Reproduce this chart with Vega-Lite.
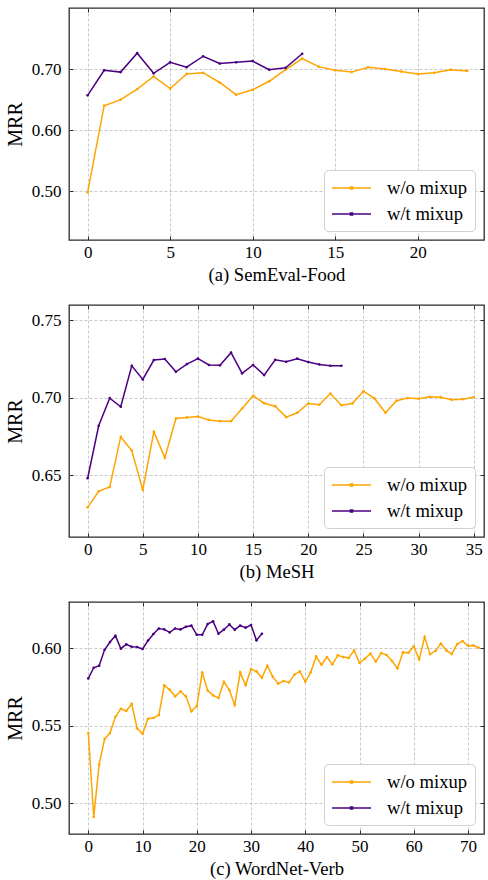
{
"$schema":"https://vega.github.io/schema/vega-lite/v6.json",
"padding":{"left":4,"top":6,"right":0,"bottom":0},
"config":{
 "font":"Liberation Serif",
 "view":{"stroke":"#2b2b2b","strokeWidth":1.3},
 "axis":{"labelFont":"Liberation Serif","labelFontSize":17,"labelColor":"black","titleFont":"Liberation Serif","titleFontSize":18.6,"titleFontWeight":"normal","titleColor":"black","domain":false,"tickColor":"#2b2b2b","tickSize":-4,"tickWidth":1,"gridColor":"#bbbbbb","gridDash":[3,2],"gridWidth":0.8},
 "axisY":{"titleFontSize":20},
 "legend":{"orient":"bottom-right","offset":9,"labelFont":"Liberation Serif","labelFontSize":18.6,"labelColor":"black","fillColor":"white","strokeColor":"#d0d0d0","cornerRadius":4,"padding":7,"rowPadding":5,"labelOffset":34,"symbolType":"M-1,0H2.9M0.85,-0.1H1.05V0.1H0.85Z","symbolSize":400,"symbolStrokeWidth":1.6,"symbolOpacity":1}
},
"data":{"values":[
{"p":"a","s":"w/o mixup","x":0,"y":0.498},{"p":"a","s":"w/o mixup","x":1,"y":0.640},{"p":"a","s":"w/o mixup","x":2,"y":0.650},{"p":"a","s":"w/o mixup","x":3,"y":0.667},{"p":"a","s":"w/o mixup","x":4,"y":0.688},{"p":"a","s":"w/o mixup","x":5,"y":0.668},{"p":"a","s":"w/o mixup","x":6,"y":0.692},{"p":"a","s":"w/o mixup","x":7,"y":0.694},{"p":"a","s":"w/o mixup","x":8,"y":0.678},{"p":"a","s":"w/o mixup","x":9,"y":0.658},{"p":"a","s":"w/o mixup","x":10,"y":0.666},{"p":"a","s":"w/o mixup","x":11,"y":0.680},{"p":"a","s":"w/o mixup","x":12,"y":0.699},{"p":"a","s":"w/o mixup","x":13,"y":0.717},{"p":"a","s":"w/o mixup","x":14,"y":0.704},{"p":"a","s":"w/o mixup","x":15,"y":0.698},{"p":"a","s":"w/o mixup","x":16,"y":0.695},{"p":"a","s":"w/o mixup","x":17,"y":0.703},{"p":"a","s":"w/o mixup","x":18,"y":0.700},{"p":"a","s":"w/o mixup","x":19,"y":0.696},{"p":"a","s":"w/o mixup","x":20,"y":0.692},{"p":"a","s":"w/o mixup","x":21,"y":0.694},{"p":"a","s":"w/o mixup","x":22,"y":0.699},{"p":"a","s":"w/o mixup","x":23,"y":0.697},
{"p":"a","s":"w/t mixup","x":0,"y":0.657},{"p":"a","s":"w/t mixup","x":1,"y":0.698},{"p":"a","s":"w/t mixup","x":2,"y":0.695},{"p":"a","s":"w/t mixup","x":3,"y":0.726},{"p":"a","s":"w/t mixup","x":4,"y":0.693},{"p":"a","s":"w/t mixup","x":5,"y":0.711},{"p":"a","s":"w/t mixup","x":6,"y":0.703},{"p":"a","s":"w/t mixup","x":7,"y":0.721},{"p":"a","s":"w/t mixup","x":8,"y":0.709},{"p":"a","s":"w/t mixup","x":9,"y":0.711},{"p":"a","s":"w/t mixup","x":10,"y":0.713},{"p":"a","s":"w/t mixup","x":11,"y":0.699},{"p":"a","s":"w/t mixup","x":12,"y":0.702},{"p":"a","s":"w/t mixup","x":13,"y":0.725},
{"p":"b","s":"w/o mixup","x":0,"y":0.6292},{"p":"b","s":"w/o mixup","x":1,"y":0.6395},{"p":"b","s":"w/o mixup","x":2,"y":0.6423},{"p":"b","s":"w/o mixup","x":3,"y":0.6747},{"p":"b","s":"w/o mixup","x":4,"y":0.6659},{"p":"b","s":"w/o mixup","x":5,"y":0.6404},{"p":"b","s":"w/o mixup","x":6,"y":0.6780},{"p":"b","s":"w/o mixup","x":7,"y":0.6613},{"p":"b","s":"w/o mixup","x":8,"y":0.6866},{"p":"b","s":"w/o mixup","x":9,"y":0.6873},{"p":"b","s":"w/o mixup","x":10,"y":0.6879},{"p":"b","s":"w/o mixup","x":11,"y":0.6857},{"p":"b","s":"w/o mixup","x":12,"y":0.6849},{"p":"b","s":"w/o mixup","x":13,"y":0.6849},{"p":"b","s":"w/o mixup","x":14,"y":0.6931},{"p":"b","s":"w/o mixup","x":15,"y":0.7013},{"p":"b","s":"w/o mixup","x":16,"y":0.6965},{"p":"b","s":"w/o mixup","x":17,"y":0.6946},{"p":"b","s":"w/o mixup","x":18,"y":0.6875},{"p":"b","s":"w/o mixup","x":19,"y":0.6903},{"p":"b","s":"w/o mixup","x":20,"y":0.6963},{"p":"b","s":"w/o mixup","x":21,"y":0.6955},{"p":"b","s":"w/o mixup","x":22,"y":0.7028},{"p":"b","s":"w/o mixup","x":23,"y":0.6952},{"p":"b","s":"w/o mixup","x":24,"y":0.6963},{"p":"b","s":"w/o mixup","x":25,"y":0.7043},{"p":"b","s":"w/o mixup","x":26,"y":0.6996},{"p":"b","s":"w/o mixup","x":27,"y":0.6903},{"p":"b","s":"w/o mixup","x":28,"y":0.6981},{"p":"b","s":"w/o mixup","x":29,"y":0.6998},{"p":"b","s":"w/o mixup","x":30,"y":0.6994},{"p":"b","s":"w/o mixup","x":31,"y":0.7006},{"p":"b","s":"w/o mixup","x":32,"y":0.7004},{"p":"b","s":"w/o mixup","x":33,"y":0.6987},{"p":"b","s":"w/o mixup","x":34,"y":0.6991},{"p":"b","s":"w/o mixup","x":35,"y":0.7004},
{"p":"b","s":"w/t mixup","x":0,"y":0.6480},{"p":"b","s":"w/t mixup","x":1,"y":0.6819},{"p":"b","s":"w/t mixup","x":2,"y":0.6998},{"p":"b","s":"w/t mixup","x":3,"y":0.6942},{"p":"b","s":"w/t mixup","x":4,"y":0.7207},{"p":"b","s":"w/t mixup","x":5,"y":0.7119},{"p":"b","s":"w/t mixup","x":6,"y":0.7244},{"p":"b","s":"w/t mixup","x":7,"y":0.7251},{"p":"b","s":"w/t mixup","x":8,"y":0.7168},{"p":"b","s":"w/t mixup","x":9,"y":0.7218},{"p":"b","s":"w/t mixup","x":10,"y":0.7253},{"p":"b","s":"w/t mixup","x":11,"y":0.7212},{"p":"b","s":"w/t mixup","x":12,"y":0.7210},{"p":"b","s":"w/t mixup","x":13,"y":0.7292},{"p":"b","s":"w/t mixup","x":14,"y":0.7158},{"p":"b","s":"w/t mixup","x":15,"y":0.7212},{"p":"b","s":"w/t mixup","x":16,"y":0.7147},{"p":"b","s":"w/t mixup","x":17,"y":0.7246},{"p":"b","s":"w/t mixup","x":18,"y":0.7233},{"p":"b","s":"w/t mixup","x":19,"y":0.7253},{"p":"b","s":"w/t mixup","x":20,"y":0.7231},{"p":"b","s":"w/t mixup","x":21,"y":0.7216},{"p":"b","s":"w/t mixup","x":22,"y":0.7207},{"p":"b","s":"w/t mixup","x":23,"y":0.7207},
{"p":"c","s":"w/o mixup","x":0,"y":0.5453},{"p":"c","s":"w/o mixup","x":1,"y":0.4910},{"p":"c","s":"w/o mixup","x":2,"y":0.5250},{"p":"c","s":"w/o mixup","x":3,"y":0.5414},{"p":"c","s":"w/o mixup","x":4,"y":0.5453},{"p":"c","s":"w/o mixup","x":5,"y":0.5558},{"p":"c","s":"w/o mixup","x":6,"y":0.5610},{"p":"c","s":"w/o mixup","x":7,"y":0.5595},{"p":"c","s":"w/o mixup","x":8,"y":0.5642},{"p":"c","s":"w/o mixup","x":9,"y":0.5483},
{"p":"c","s":"w/o mixup","x":10,"y":0.5448},{"p":"c","s":"w/o mixup","x":11,"y":0.5545},{"p":"c","s":"w/o mixup","x":12,"y":0.5550},{"p":"c","s":"w/o mixup","x":13,"y":0.5569},{"p":"c","s":"w/o mixup","x":14,"y":0.5761},{"p":"c","s":"w/o mixup","x":15,"y":0.5733},{"p":"c","s":"w/o mixup","x":16,"y":0.5690},{"p":"c","s":"w/o mixup","x":17,"y":0.5722},{"p":"c","s":"w/o mixup","x":18,"y":0.5690},{"p":"c","s":"w/o mixup","x":19,"y":0.5593},
{"p":"c","s":"w/o mixup","x":20,"y":0.5627},{"p":"c","s":"w/o mixup","x":21,"y":0.5845},{"p":"c","s":"w/o mixup","x":22,"y":0.5728},{"p":"c","s":"w/o mixup","x":23,"y":0.5696},{"p":"c","s":"w/o mixup","x":24,"y":0.5679},{"p":"c","s":"w/o mixup","x":25,"y":0.5784},{"p":"c","s":"w/o mixup","x":26,"y":0.5731},{"p":"c","s":"w/o mixup","x":27,"y":0.5634},{"p":"c","s":"w/o mixup","x":28,"y":0.5845},{"p":"c","s":"w/o mixup","x":29,"y":0.5763},
{"p":"c","s":"w/o mixup","x":30,"y":0.5866},{"p":"c","s":"w/o mixup","x":31,"y":0.5851},{"p":"c","s":"w/o mixup","x":32,"y":0.5810},{"p":"c","s":"w/o mixup","x":33,"y":0.5888},{"p":"c","s":"w/o mixup","x":34,"y":0.5817},{"p":"c","s":"w/o mixup","x":35,"y":0.5772},{"p":"c","s":"w/o mixup","x":36,"y":0.5789},{"p":"c","s":"w/o mixup","x":37,"y":0.5780},{"p":"c","s":"w/o mixup","x":38,"y":0.5830},{"p":"c","s":"w/o mixup","x":39,"y":0.5851},
{"p":"c","s":"w/o mixup","x":40,"y":0.5784},{"p":"c","s":"w/o mixup","x":41,"y":0.5845},{"p":"c","s":"w/o mixup","x":42,"y":0.5948},{"p":"c","s":"w/o mixup","x":43,"y":0.5894},{"p":"c","s":"w/o mixup","x":44,"y":0.5944},{"p":"c","s":"w/o mixup","x":45,"y":0.5897},{"p":"c","s":"w/o mixup","x":46,"y":0.5955},{"p":"c","s":"w/o mixup","x":47,"y":0.5944},{"p":"c","s":"w/o mixup","x":48,"y":0.5938},{"p":"c","s":"w/o mixup","x":49,"y":0.5987},
{"p":"c","s":"w/o mixup","x":50,"y":0.5907},{"p":"c","s":"w/o mixup","x":51,"y":0.5933},{"p":"c","s":"w/o mixup","x":52,"y":0.5966},{"p":"c","s":"w/o mixup","x":53,"y":0.5914},{"p":"c","s":"w/o mixup","x":54,"y":0.5970},{"p":"c","s":"w/o mixup","x":55,"y":0.5957},{"p":"c","s":"w/o mixup","x":56,"y":0.5918},{"p":"c","s":"w/o mixup","x":57,"y":0.5871},{"p":"c","s":"w/o mixup","x":58,"y":0.5974},{"p":"c","s":"w/o mixup","x":59,"y":0.5972},
{"p":"c","s":"w/o mixup","x":60,"y":0.6013},{"p":"c","s":"w/o mixup","x":61,"y":0.5929},{"p":"c","s":"w/o mixup","x":62,"y":0.6073},{"p":"c","s":"w/o mixup","x":63,"y":0.5963},{"p":"c","s":"w/o mixup","x":64,"y":0.5983},{"p":"c","s":"w/o mixup","x":65,"y":0.6032},{"p":"c","s":"w/o mixup","x":66,"y":0.5987},{"p":"c","s":"w/o mixup","x":67,"y":0.5963},{"p":"c","s":"w/o mixup","x":68,"y":0.6028},{"p":"c","s":"w/o mixup","x":69,"y":0.6047},
{"p":"c","s":"w/o mixup","x":70,"y":0.6017},{"p":"c","s":"w/o mixup","x":71,"y":0.6019},{"p":"c","s":"w/o mixup","x":72,"y":0.6004},
{"p":"c","s":"w/t mixup","x":0,"y":0.5806},{"p":"c","s":"w/t mixup","x":1,"y":0.5875},{"p":"c","s":"w/t mixup","x":2,"y":0.5888},{"p":"c","s":"w/t mixup","x":3,"y":0.5991},{"p":"c","s":"w/t mixup","x":4,"y":0.6041},{"p":"c","s":"w/t mixup","x":5,"y":0.6082},{"p":"c","s":"w/t mixup","x":6,"y":0.5998},{"p":"c","s":"w/t mixup","x":7,"y":0.6026},{"p":"c","s":"w/t mixup","x":8,"y":0.6011},{"p":"c","s":"w/t mixup","x":9,"y":0.6009},
{"p":"c","s":"w/t mixup","x":10,"y":0.5996},{"p":"c","s":"w/t mixup","x":11,"y":0.6050},{"p":"c","s":"w/t mixup","x":12,"y":0.6093},{"p":"c","s":"w/t mixup","x":13,"y":0.6129},{"p":"c","s":"w/t mixup","x":14,"y":0.6123},{"p":"c","s":"w/t mixup","x":15,"y":0.6103},{"p":"c","s":"w/t mixup","x":16,"y":0.6129},{"p":"c","s":"w/t mixup","x":17,"y":0.6123},{"p":"c","s":"w/t mixup","x":18,"y":0.6140},{"p":"c","s":"w/t mixup","x":19,"y":0.6147},
{"p":"c","s":"w/t mixup","x":20,"y":0.6088},{"p":"c","s":"w/t mixup","x":21,"y":0.6088},{"p":"c","s":"w/t mixup","x":22,"y":0.6157},{"p":"c","s":"w/t mixup","x":23,"y":0.6175},{"p":"c","s":"w/t mixup","x":24,"y":0.6095},{"p":"c","s":"w/t mixup","x":25,"y":0.6121},{"p":"c","s":"w/t mixup","x":26,"y":0.6155},{"p":"c","s":"w/t mixup","x":27,"y":0.6121},{"p":"c","s":"w/t mixup","x":28,"y":0.6147},{"p":"c","s":"w/t mixup","x":29,"y":0.6134},
{"p":"c","s":"w/t mixup","x":30,"y":0.6151},{"p":"c","s":"w/t mixup","x":31,"y":0.6052},{"p":"c","s":"w/t mixup","x":32,"y":0.6095}
]},
"spacing":65,
"bounds":"flush",
"resolve":{"scale":{"color":"independent"},"legend":{"color":"independent"}},
"vconcat":[
{"width":415,"height":232,
 "transform":[{"filter":"datum.p==='a'"}],
 "layer":[
  {"mark":{"type":"line","strokeWidth":1.5},
   "encoding":{
    "x":{"field":"x","type":"quantitative","scale":{"domain":[-1.13,24.02],"nice":false,"zero":false},"axis":{"orient":"bottom","values":[0,5,10,15,20],"title":"(a) SemEval-Food","labelPadding":8,"titlePadding":5,"grid":true}},
    "y":{"field":"y","type":"quantitative","scale":{"domain":[0.42,0.80],"nice":false,"zero":false},"axis":{"orient":"left","values":[0.5,0.6,0.7],"format":".2f","title":"MRR","labelPadding":12,"titlePadding":6,"grid":true}},
    "color":{"field":"s","type":"nominal","scale":{"domain":["w/o mixup","w/t mixup"],"range":["#ffa500","#4b0082"]},"legend":{"title":null}}}},
  {"mark":{"type":"point","filled":true,"size":7,"opacity":1},
   "encoding":{
    "x":{"field":"x","type":"quantitative","scale":{"domain":[-1.13,24.02],"nice":false,"zero":false},"axis":{"orient":"top","values":[0,5,10,15,20],"labels":false,"title":null,"grid":false}},
    "y":{"field":"y","type":"quantitative","scale":{"domain":[0.42,0.80],"nice":false,"zero":false},"axis":{"orient":"right","values":[0.5,0.6,0.7],"labels":false,"title":null,"grid":false}},
    "color":{"field":"s","type":"nominal","scale":{"domain":["w/o mixup","w/t mixup"],"range":["#ffa500","#4b0082"]}}}}
 ],
 "resolve":{"axis":{"x":"independent","y":"independent"}}
},
{"width":415,"height":232,
 "transform":[{"filter":"datum.p==='b'"}],
 "layer":[
  {"mark":{"type":"line","strokeWidth":1.5},
   "encoding":{
    "x":{"field":"x","type":"quantitative","scale":{"domain":[-1.69,35.93],"nice":false,"zero":false},"axis":{"orient":"bottom","values":[0,5,10,15,20,25,30,35],"title":"(b) MeSH","labelPadding":8,"titlePadding":5,"grid":true}},
    "y":{"field":"y","type":"quantitative","scale":{"domain":[0.61,0.76],"nice":false,"zero":false},"axis":{"orient":"left","values":[0.65,0.7,0.75],"format":".2f","title":"MRR","labelPadding":12,"titlePadding":6,"grid":true}},
    "color":{"field":"s","type":"nominal","scale":{"domain":["w/o mixup","w/t mixup"],"range":["#ffa500","#4b0082"]},"legend":{"title":null}}}},
  {"mark":{"type":"point","filled":true,"size":7,"opacity":1},
   "encoding":{
    "x":{"field":"x","type":"quantitative","scale":{"domain":[-1.69,35.93],"nice":false,"zero":false},"axis":{"orient":"top","values":[0,5,10,15,20,25,30,35],"labels":false,"title":null,"grid":false}},
    "y":{"field":"y","type":"quantitative","scale":{"domain":[0.61,0.76],"nice":false,"zero":false},"axis":{"orient":"right","values":[0.65,0.7,0.75],"labels":false,"title":null,"grid":false}},
    "color":{"field":"s","type":"nominal","scale":{"domain":["w/o mixup","w/t mixup"],"range":["#ffa500","#4b0082"]}}}}
 ],
 "resolve":{"axis":{"x":"independent","y":"independent"}}
},
{"width":415,"height":232,
 "transform":[{"filter":"datum.p==='c'"}],
 "layer":[
  {"mark":{"type":"line","strokeWidth":1.5},
   "encoding":{
    "x":{"field":"x","type":"quantitative","scale":{"domain":[-3.56,72.95],"nice":false,"zero":false},"axis":{"orient":"bottom","values":[0,10,20,30,40,50,60,70],"title":"(c) WordNet-Verb","labelPadding":8,"titlePadding":5,"grid":true}},
    "y":{"field":"y","type":"quantitative","scale":{"domain":[0.48,0.63],"nice":false,"zero":false},"axis":{"orient":"left","values":[0.5,0.55,0.6],"format":".2f","title":"MRR","labelPadding":12,"titlePadding":6,"grid":true}},
    "color":{"field":"s","type":"nominal","scale":{"domain":["w/o mixup","w/t mixup"],"range":["#ffa500","#4b0082"]},"legend":{"title":null}}}},
  {"mark":{"type":"point","filled":true,"size":7,"opacity":1},
   "encoding":{
    "x":{"field":"x","type":"quantitative","scale":{"domain":[-3.56,72.95],"nice":false,"zero":false},"axis":{"orient":"top","values":[0,10,20,30,40,50,60,70],"labels":false,"title":null,"grid":false}},
    "y":{"field":"y","type":"quantitative","scale":{"domain":[0.48,0.63],"nice":false,"zero":false},"axis":{"orient":"right","values":[0.5,0.55,0.6],"labels":false,"title":null,"grid":false}},
    "color":{"field":"s","type":"nominal","scale":{"domain":["w/o mixup","w/t mixup"],"range":["#ffa500","#4b0082"]}}}}
 ],
 "resolve":{"axis":{"x":"independent","y":"independent"}}
}
]
}
